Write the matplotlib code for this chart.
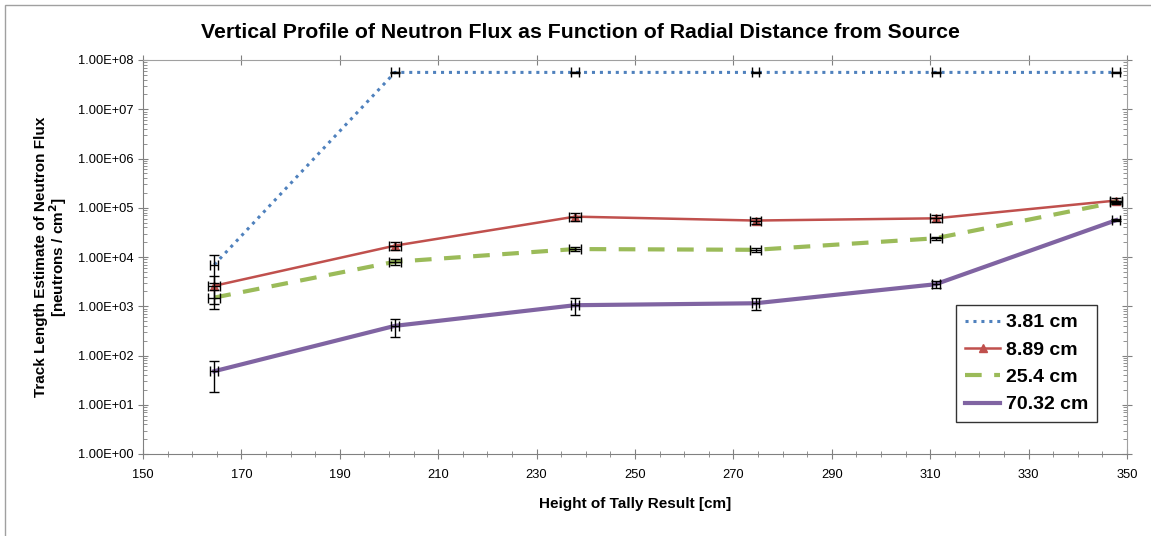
import numpy as np
import matplotlib.pyplot as plt
from matplotlib.patches import Rectangle
from matplotlib.ticker import LogLocator, FixedLocator, NullFormatter

plt.rcParams['font.family'] = ['Liberation Sans', 'DejaVu Sans']

# tally heights [cm]
heights = [164.5, 201.2, 237.8, 274.5, 311.1, 347.8]

# flux by radial distance
flux_381 = [7.0e3, 5.6e7, 5.6e7, 5.6e7, 5.6e7, 5.6e7]
err_381 = [4.0e3, 1.0e6, 1.0e6, 1.0e6, 1.0e6, 1.0e6]

flux_889 = [2.6e3, 1.7e4, 6.6e4, 5.5e4, 6.1e4, 1.4e5]
err_889 = [1.5e3, 3.0e3, 1.2e4, 8.0e3, 1.0e4, 1.5e4]

flux_254 = [1.5e3, 8.0e3, 1.45e4, 1.4e4, 2.4e4, 1.3e5]
err_254 = [6.0e2, 1.0e3, 1.5e3, 1.5e3, 2.0e3, 1.0e4]

flux_7032 = [48, 4.0e2, 1.05e3, 1.15e3, 2.8e3, 5.6e4]
err_7032 = [30, 160, 400, 300, 500, 2.0e3]

x_err = 1.2

labels = ['3.81 cm', '8.89 cm', '25.4 cm', '70.32 cm']
colors = ['#4F81BD', '#C0504D', '#9BBB59', '#8064A2']

fig = plt.figure(figsize=(11.51, 5.36), dpi=100)
ax = fig.add_axes([143 / 1151, 1 - 454 / 536, (1127 - 143) / 1151, (454 - 60) / 536])

# chart border
fig.patches.append(Rectangle((0.004, -0.01), 1.2, 1.0, transform=fig.transFigure,
                             fill=False, edgecolor='#A0A0A0', linewidth=1))

ax.plot(heights, flux_381, color=colors[0], linestyle=(0, (1, 1.6)), linewidth=2.2, label=labels[0])
ax.plot(heights, flux_889, color=colors[1], linewidth=1.8, marker='^', markersize=6, label=labels[1])
ax.plot(heights, flux_254, color=colors[2], linestyle=(0, (4, 3)), linewidth=3, label=labels[2])
ax.plot(heights, flux_7032, color=colors[3], linewidth=3, label=labels[3])

for vals, errs, xe in [(flux_381, err_381, 0.8), (flux_889, err_889, x_err),
                       (flux_254, err_254, x_err), (flux_7032, err_7032, 0.8)]:
    ax.errorbar(heights, vals, yerr=errs, xerr=xe, fmt='none', ecolor='black',
                elinewidth=1, capsize=3.5, capthick=1, zorder=5)

ax.set_yscale('log')
ax.set_ylim(1, 1e8)
ax.set_xlim(150, 350)

ax.yaxis.set_major_locator(FixedLocator([10.0 ** k for k in range(9)]))
ax.yaxis.set_minor_locator(LogLocator(base=10, subs=np.arange(2, 10), numticks=20))
ax.yaxis.set_minor_formatter(NullFormatter())
ax.set_yticklabels(['1.00E+%02d' % k for k in range(9)])
ax.xaxis.set_major_locator(FixedLocator(list(range(150, 351, 20))))
ax.xaxis.set_minor_locator(FixedLocator(list(range(150, 351, 5))))

for s in ax.spines.values():
    s.set_color('#A0A0A0')
ax.spines['left'].set_color('#808080')
ax.spines['bottom'].set_color('#808080')

ax.tick_params(axis='both', which='both', colors='#808080', labelcolor='black', labelsize=9.3)
ax.tick_params(axis='y', which='major', direction='inout', length=7, right=True)
ax.tick_params(axis='y', which='minor', direction='in', length=3, right=True)
ax.tick_params(axis='x', which='major', direction='inout', length=7, top=True, pad=7)
ax.tick_params(axis='x', which='minor', direction='inout', length=5)

fig.text(580 / 1151, 1 - 33 / 536,
         'Vertical Profile of Neutron Flux as Function of Radial Distance from Source',
         ha='center', va='center', fontsize=15.3, fontweight='bold')
ax.set_xlabel('Height of Tally Result [cm]', fontsize=11, fontweight='bold', labelpad=12)
ax.set_ylabel('Track Length Estimate of Neutron Flux\n[neutrons / cm$^\\mathbf{2}$]',
              fontsize=11, fontweight='bold', labelpad=6, linespacing=1.0)

leg = ax.legend(loc='lower right', bbox_to_anchor=(0.9695, 0.081),
                prop={'weight': 'bold', 'size': 14}, frameon=True, fancybox=False,
                handlelength=1.8, handletextpad=0.3, borderpad=0.45, labelspacing=0.5,
                borderaxespad=0.0)
leg.get_frame().set_edgecolor('black')
leg.get_frame().set_linewidth(1)

fig.savefig('out.png', dpi=100)
